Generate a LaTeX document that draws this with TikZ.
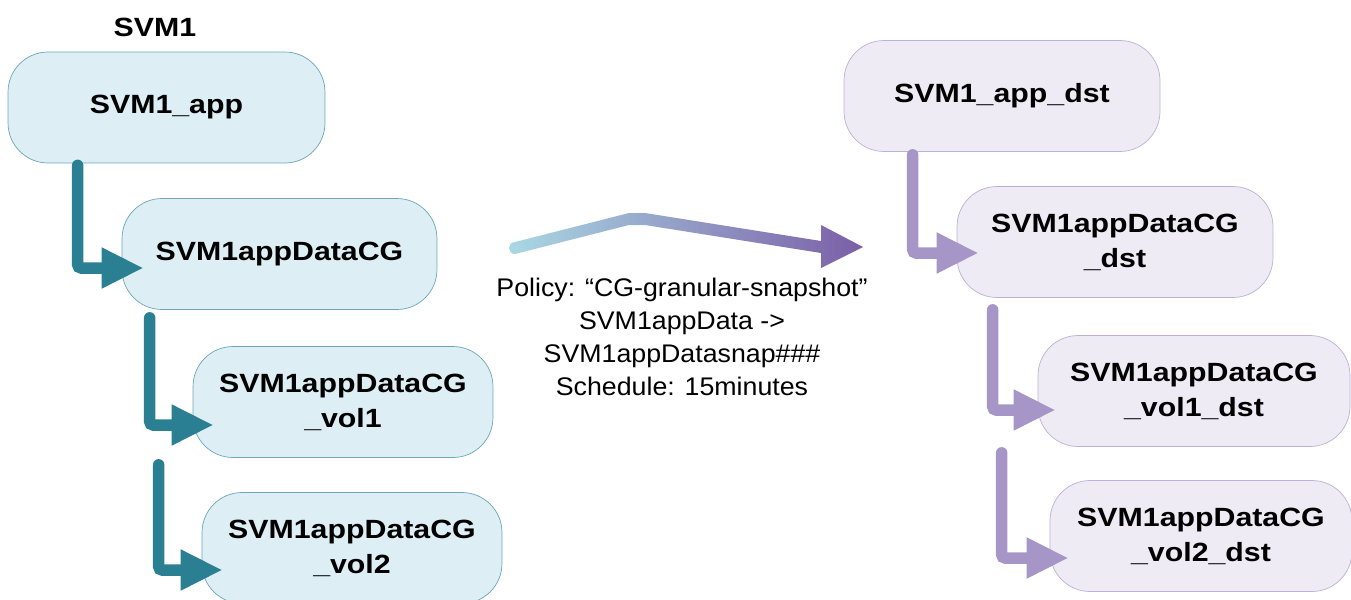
\documentclass[tikz,border=0pt]{standalone}
\usepackage{fontspec}
\setmainfont{Liberation Sans}
\newfontfamily\lblfont{Liberation Sans}[FakeStretch=1.15]
\newfontfamily\polfont{Liberation Sans}[FakeStretch=1.05]
\usetikzlibrary{arrows.meta,positioning}
\definecolor{srcFill}{RGB}{221,239,244}
\definecolor{srcLine}{RGB}{106,167,184}
\definecolor{srcArrow}{RGB}{43,127,147}
\definecolor{dstFill}{RGB}{238,235,244}
\definecolor{dstLine}{RGB}{189,176,214}
\definecolor{dstArrow}{RGB}{166,150,200}
\definecolor{flowStart}{RGB}{169,217,227}
\definecolor{flowEnd}{RGB}{123,94,167}
\tikzset{
    >=Stealth,
    every node/.append style={align=center},
    volbox/.style={rectangle,rounded corners=0.8cm,minimum height=2.22cm,inner sep=0pt,font=\lblfont\bfseries\fontsize{15}{20}\selectfont},
    srcbox/.style={volbox,draw=srcLine,fill=srcFill,minimum width=#1},
    dstbox/.style={volbox,draw=dstLine,fill=dstFill,minimum width=#1},
    link/.style={line width=0.23cm,line cap=round,rounded corners=2pt,-{Triangle[length=0.84cm,width=0.76cm]}},
    srclink/.style={link,draw=srcArrow,color=srcArrow},
    dstlink/.style={link,draw=dstArrow,color=dstArrow},
    policy/.style={font=\polfont\fontsize{14.5}{18.8}\selectfont},
}
\begin{document}
\begin{tikzpicture}[x=0.02cm,y=-0.02cm]
    \useasboundingbox (0,0) rectangle (1351,599);

    \node[srcbox=6.34cm] (app) at (166.5,107.5) {SVM1\_app};
    \node[font=\lblfont\bfseries\fontsize{15}{20}\selectfont] (svm) at (155,27) {SVM1};
    \node[srcbox=6.30cm] (cg) at (279.5,254) {SVM1appDataCG};
    \node[srcbox=6.00cm] (vol1) at (343,402) {SVM1appDataCG\\\_vol1};
    \node[srcbox=6.00cm] (vol2) at (352,548) {SVM1appDataCG\\\_vol2};

    \node[dstbox=6.32cm] (appdst) at (1002,96) {SVM1\_app\_dst};
    \node[dstbox=6.32cm] (cgdst) at (1115,242) {SVM1appDataCG\\\_dst};
    \node[dstbox=6.24cm] (vol1dst) at (1194,391) {SVM1appDataCG\\\_vol1\_dst};
    \node[dstbox=6.04cm] (vol2dst) at (1201,536) {SVM1appDataCG\\\_vol2\_dst};

    \draw[srclink] ([shift={(70,2)}]app.south west) |- ([shift={(22,14)}]cg.west);
    \draw[srclink] ([shift={(28,8)}]cg.south west) |- ([shift={(21,23)}]vol1.west);
    \draw[srclink] ([shift={(-34,7)}]vol1.south west) |- ([shift={(21,22)}]vol2.west);

    \draw[dstlink] ([shift={(69,3)}]appdst.south west) |- ([shift={(22,11)}]cgdst.west);
    \draw[dstlink] ([shift={(36,12)}]cgdst.south west) |- ([shift={(18,19)}]vol1dst.west);
    \draw[dstlink] ([shift={(-36,6)}]vol1dst.south west) |- ([shift={(19,22)}]vol2dst.west);

    \coordinate (flowA) at (515,248);
    \coordinate (flowB) at (637,219);
    \coordinate (flowC) at (821,247);
    \coordinate (flowTip) at (863,247);
    \shade[left color=flowStart,right color=flowEnd]
        ([shift={(0,-6)}]flowA) -- ([shift={(-8,-6)}]flowB) -- ([shift={(8,-6)}]flowB) -- ([shift={(0,-6)}]flowC) -- ([shift={(0,-22)}]flowC)
        -- (flowTip) -- ([shift={(0,21)}]flowC) -- ([shift={(0,6)}]flowC) -- ([shift={(8,6)}]flowB) -- ([shift={(-8,6)}]flowB)
        -- ([shift={(0,6)}]flowA) .. controls ([shift={(-8,6)}]flowA) and ([shift={(-8,-6)}]flowA) .. ([shift={(0,-6)}]flowA) -- cycle;

    \node[policy] (pol) at (682,337) {Policy: “CG-granular-snapshot”\\SVM1appData ->\\SVM1appDatasnap\#\#\#\\Schedule: 15minutes};
\end{tikzpicture}
\end{document}
